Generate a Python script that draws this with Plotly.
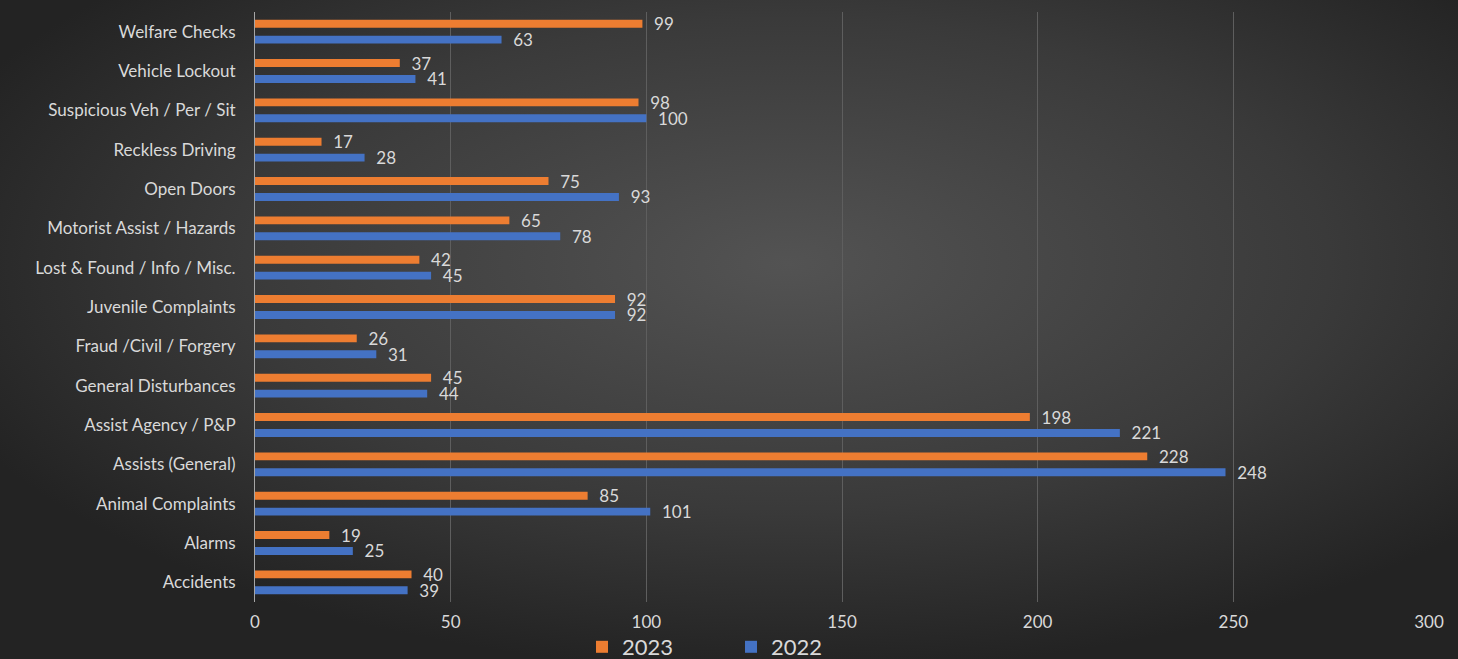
import base64
import plotly.graph_objects as go

categories = ["Accidents", "Alarms", "Animal Complaints", "Assists (General)",
              "Assist Agency / P&P", "General Disturbances", "Fraud /Civil / Forgery",
              "Juvenile Complaints", "Lost & Found / Info / Misc.", "Motorist Assist / Hazards",
              "Open Doors", "Reckless Driving", "Suspicious Veh / Per / Sit",
              "Vehicle Lockout", "Welfare Checks"]
values_2023 = [40, 19, 85, 228, 198, 45, 26, 92, 42, 65, 75, 17, 98, 37, 99]
values_2022 = [39, 25, 101, 248, 221, 44, 31, 92, 45, 78, 93, 28, 100, 41, 63]
x_ticks = [0, 50, 100, 150, 200, 250, 300]

W, H = 1458, 659
L, R, T, B = 255, 29, 12, 57
pw, ph = W - L - R, H - T - B

svg = f'''<svg xmlns="http://www.w3.org/2000/svg" width="{W}" height="{H}" viewBox="0 0 {W} {H}" preserveAspectRatio="none">
<defs><radialGradient id="g" cx="0.54" cy="0.40" r="0.62" gradientUnits="objectBoundingBox">
<stop offset="0" stop-color="#535353"/><stop offset="0.6" stop-color="#3a3a3a"/><stop offset="1" stop-color="#232323"/>
</radialGradient></defs><rect width="{W}" height="{H}" fill="url(#g)"/></svg>'''
src = "data:image/svg+xml;base64," + base64.b64encode(svg.encode()).decode()

font = "Lato, 'Open Sans', sans-serif"
txt = "#d9d9d9"

fig = go.Figure()
fig.add_trace(go.Bar(y=categories, x=values_2022, name="2022", orientation="h",
                     marker=dict(color="#4472C4", line=dict(width=0)),
                     text=values_2022, texttemplate="  %{x}", textposition="outside",
                     constraintext="none",
                     textfont=dict(color=txt, size=17, family=font), cliponaxis=False,
                     legendrank=2))
fig.add_trace(go.Bar(y=categories, x=values_2023, name="2023", orientation="h",
                     marker=dict(color="#ED7D31", line=dict(width=0)),
                     text=values_2023, texttemplate="  %{x}", textposition="outside",
                     constraintext="none",
                     textfont=dict(color=txt, size=17, family=font), cliponaxis=False,
                     legendrank=1))

fig.update_layout(
    width=W, height=H,
    margin=dict(l=L, r=R, t=T, b=B, pad=0, autoexpand=False),
    paper_bgcolor="#2e2e2e", plot_bgcolor="rgba(0,0,0,0)",
    barmode="group", bargap=0.19, bargroupgap=0.5,
    font=dict(family=font, color=txt, size=17),
    images=[dict(source=src, xref="paper", yref="paper",
                 x=-L / pw, y=1 + T / ph, sizex=W / pw, sizey=H / ph,
                 xanchor="left", yanchor="top", sizing="stretch", layer="below")],
    xaxis=dict(range=[0, 300], tickvals=x_ticks, showgrid=True, gridcolor="#5e5e5e",
               gridwidth=1, zeroline=False, showline=False, automargin=False,
               tickfont=dict(size=17, color=txt, family=font), ticklabelstandoff=8),
    yaxis=dict(showgrid=False, showline=True, linecolor="#a6a6a6", linewidth=1,
               ticks="", automargin=False,
               tickfont=dict(size=17, color=txt, family=font),
               ticklabelstandoff=15),
    legend=dict(orientation="h", x=(582 - L) / pw, xanchor="left",
                yref="container", y=1 - 647 / H, yanchor="middle",
                entrywidth=104, entrywidthmode="pixels",
                font=dict(size=22, color=txt, family=font),
                bgcolor="rgba(0,0,0,0)"),
    showlegend=True,
)

fig.write_html("out.html", config={"displayModeBar": False},
               post_script="document.body.style.margin='0';document.body.style.overflow='hidden';")
